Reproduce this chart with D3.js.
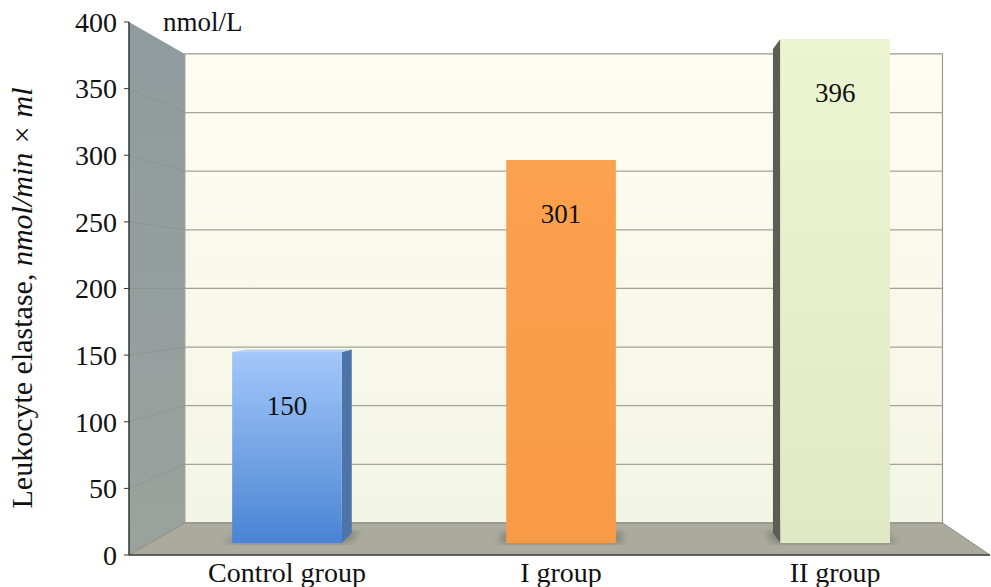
<!DOCTYPE html>
<html>
<head>
<meta charset="utf-8">
<script src="https://cdn.jsdelivr.net/npm/d3@7"></script>
<style>
  body { margin: 0; background: #fff; }
  svg text { font-family: 'Liberation Serif', 'DejaVu Serif', serif; fill: #111; }
</style>
</head>
<body>
<svg width="991" height="587"></svg>
<script>
// chart values
var categories = ["Control group", "I group", "II group"];
var values = [150, 301, 396];
var yTicks = [0, 50, 100, 150, 200, 250, 300, 350, 400];
var unitLabel = "nmol/L";

var svg = d3.select("svg");

// front plane scales
var x = d3.scaleBand().domain(categories).range([129, 990]);
var y = d3.scaleLinear().domain([0, 400]).range([555, 22]);

// simple perspective: depth t (0 front .. 1 back) shrinks toward a vanishing point
var vp = [594, 288];
function proj(u, v, t) {
  var s = 1 - 0.12 * t;
  return [vp[0] + (u - vp[0]) * s, vp[1] + (y(v) - vp[1]) * s];
}
function poly(pts) { return "M" + pts.map(function(p) { return p.join(","); }).join("L") + "Z"; }

var defs = svg.append("defs");
function vGrad(id, stops) {
  var g = defs.append("linearGradient").attr("id", id).attr("x1", 0).attr("y1", 0).attr("x2", 0).attr("y2", 1);
  stops.forEach(function(s) { g.append("stop").attr("offset", s[0]).attr("stop-color", s[1]); });
}
vGrad("wall", [[0, "#fdfdf2"], [1, "#f3f5e4"]]);
vGrad("side", [[0, "#8f9b9d"], [1, "#9aa29d"]]);
vGrad("blue", [[0, "#a3c8f9"], [1, "#4a84d4"]]);
vGrad("orange", [[0, "#fba24f"], [1, "#f99a45"]]);
vGrad("green", [[0, "#ecf5d2"], [1, "#dfe9c5"]]);
defs.append("filter").attr("id", "blur").append("feGaussianBlur").attr("stdDeviation", 3);

var xL = 129, xR = 990;

// back wall
svg.append("path")
  .attr("d", poly([proj(xL, 0, 1), proj(xR, 0, 1), proj(xR, 400, 1), proj(xL, 400, 1)]))
  .attr("fill", "url(#wall)").attr("stroke", "#9a9a90").attr("stroke-width", 1.2);

// left wall
svg.append("path")
  .attr("d", poly([proj(xL, 0, 0), proj(xL, 0, 1), proj(xL, 400, 1), proj(xL, 400, 0)]))
  .attr("fill", "url(#side)");

// gridlines on back + left walls
yTicks.filter(function(d) { return d > 0 && d < 400; }).forEach(function(d) {
  var a = proj(xL, d, 1), b = proj(xR, d, 1), c = proj(xL, d, 0);
  svg.append("line").attr("x1", a[0]).attr("y1", a[1]).attr("x2", b[0]).attr("y2", b[1])
    .attr("stroke", "#a3a399").attr("stroke-width", 1.3);
  svg.append("line").attr("x1", c[0]).attr("y1", c[1]).attr("x2", a[0]).attr("y2", a[1])
    .attr("stroke", "#7f8a8c").attr("stroke-width", 1).attr("opacity", 0.45);
});

// floor
svg.append("path")
  .attr("d", poly([proj(xL, 0, 0), proj(xR, 0, 0), proj(xR, 0, 1), proj(xL, 0, 1)]))
  .attr("fill", "#aaab9d").attr("stroke", "#8a8b80").attr("stroke-width", 1);

// bars
var tF = 0.375, tB = 0.69;
var fills = ["url(#blue)", "url(#orange)", "url(#green)"];
var sideFills = ["#4d74a8", "#e98c3c", "#5b5f52"];
var topFills = ["#b8d4fa", "#fdb56f", "#f2f8e0"];

var bars = categories.map(function(c, i) {
  var cx = x(c) + x.bandwidth() / 2, hw = x.bandwidth() * 0.2;
  return { key: c, value: values[i], i: i, u0: cx - hw, u1: cx + hw, cx: cx };
});

// floor shadows
svg.selectAll(".shadow").data(bars).enter().append("path")
  .attr("d", function(d) {
    return poly([proj(d.u0 - 8, 0, tF - 0.02), proj(d.u1 + 8, 0, tF - 0.02), proj(d.u1 + 8, 0, tB + 0.05), proj(d.u0 - 8, 0, tB + 0.05)]);
  })
  .attr("fill", "#6f7068").attr("opacity", 0.55).attr("filter", "url(#blur)");

var g = svg.selectAll(".bar").data(bars).enter().append("g").attr("class", "bar");

// side face (the one facing the vanishing point)
g.append("path")
  .attr("d", function(d) {
    var u = d.u1 < vp[0] ? d.u1 : (d.u0 > vp[0] ? d.u0 : null);
    if (u === null) return null;
    return poly([proj(u, 0, tF), proj(u, 0, tB), proj(u, d.value, tB), proj(u, d.value, tF)]);
  })
  .attr("fill", function(d) { return sideFills[d.i]; });

// top face, visible only when it sits below eye level
g.append("path")
  .attr("d", function(d) {
    if (y(d.value) < vp[1]) return null;
    return poly([proj(d.u0, d.value, tF), proj(d.u1, d.value, tF), proj(d.u1, d.value, tB), proj(d.u0, d.value, tB)]);
  })
  .attr("fill", function(d) { return topFills[d.i]; });

// front face
g.append("path")
  .attr("d", function(d) {
    return poly([proj(d.u0, 0, tF), proj(d.u1, 0, tF), proj(d.u1, d.value, tF), proj(d.u0, d.value, tF)]);
  })
  .attr("fill", function(d) { return fills[d.i]; });

// value labels inside bars
g.append("text")
  .attr("x", function(d) { return proj(d.cx, d.value, tF)[0]; })
  .attr("y", function(d) { return proj(d.cx, d.value, tF)[1] + 63; })
  .attr("text-anchor", "middle")
  .attr("font-size", 27)
  .text(function(d) { return d.value; });

// front axis lines
svg.append("line").attr("x1", xL).attr("y1", y(0)).attr("x2", xR).attr("y2", y(0))
  .attr("stroke", "#444").attr("stroke-width", 1.5);
svg.append("line").attr("x1", xL).attr("y1", y(0)).attr("x2", xL).attr("y2", y(400))
  .attr("stroke", "#333").attr("stroke-width", 1.5);

// y ticks + labels
var ya = svg.append("g");
ya.selectAll("line").data(yTicks).enter().append("line")
  .attr("x1", xL - 5).attr("x2", xL).attr("y1", function(d) { return y(d); }).attr("y2", function(d) { return y(d); })
  .attr("stroke", "#333");
ya.selectAll("text").data(yTicks).enter().append("text")
  .attr("x", 117).attr("y", function(d) { return y(d); }).attr("dy", "0.35em")
  .attr("text-anchor", "end").attr("font-size", 28)
  .text(function(d) { return d; });

// x labels
svg.selectAll(".xl").data(bars).enter().append("text")
  .attr("x", function(d) { return proj(d.cx, 0, tF)[0]; })
  .attr("y", 582)
  .attr("text-anchor", "middle").attr("font-size", 28)
  .text(function(d) { return d.key; });

// unit label
svg.append("text").attr("x", 163).attr("y", 31).attr("font-size", 27).text(unitLabel);

// y axis title
var yt = svg.append("text")
  .attr("transform", "translate(32,298) rotate(-90)")
  .attr("text-anchor", "middle").attr("font-size", 30);
yt.append("tspan").text("Leukocyte elastase, ");
yt.append("tspan").attr("font-style", "italic").text("nmol/min × ml");
</script>
</body>
</html>
